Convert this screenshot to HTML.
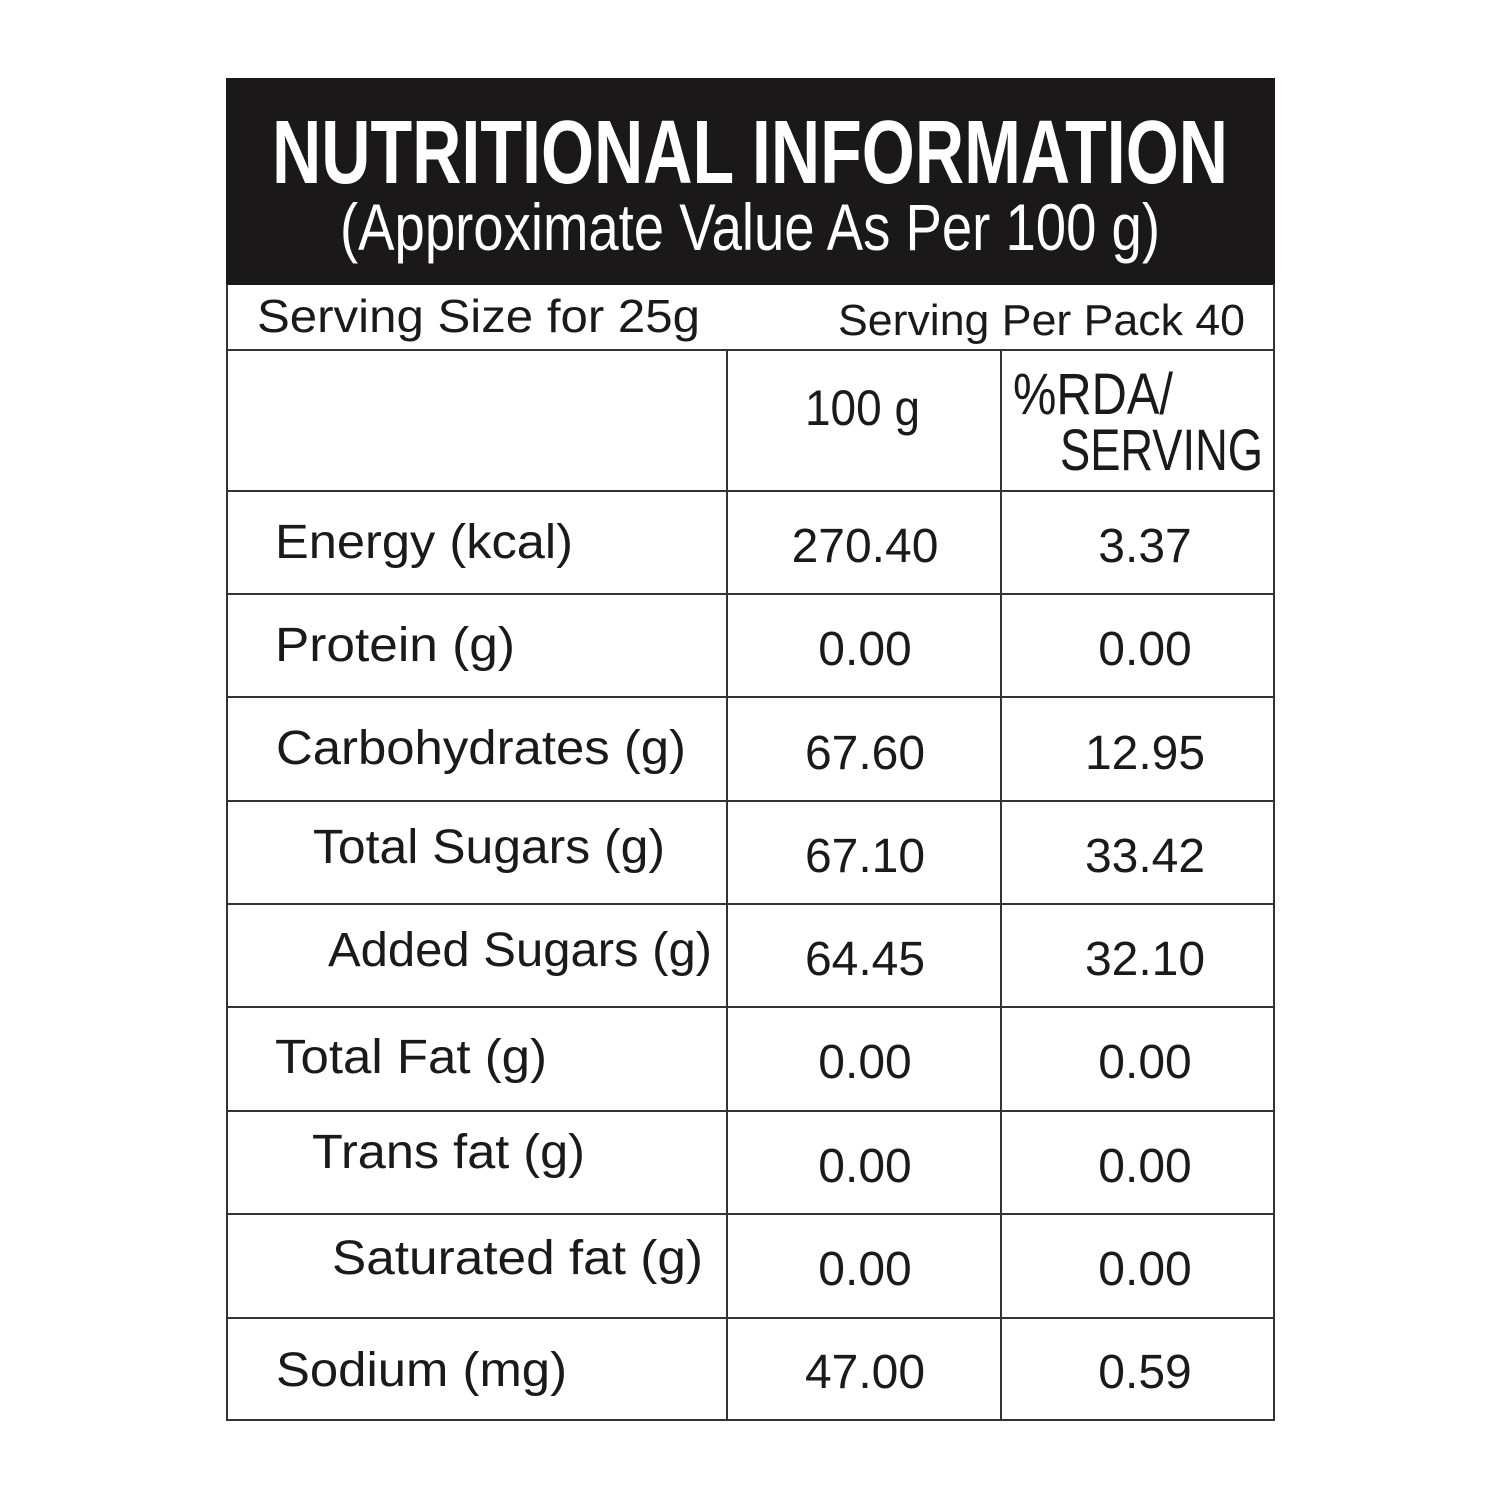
<!DOCTYPE html>
<html><head><style>html,body{margin:0;padding:0;background:#fff;}svg{display:block}</style></head>
<body>
<svg width="1500" height="1500" viewBox="0 0 1500 1500" xmlns="http://www.w3.org/2000/svg" font-family="'Liberation Sans', sans-serif" fill="#1a1a1a">
<rect x="0" y="0" width="1500" height="1500" fill="#fff"/>
<rect x="226" y="78" width="1049" height="207" fill="#1a1818"/>
<g stroke="#333" stroke-width="2" fill="none">
<line x1="227" y1="284" x2="227" y2="1421"/>
<line x1="1274" y1="284" x2="1274" y2="1421"/>
<line x1="226" y1="350" x2="1275" y2="350"/>
<line x1="727" y1="350" x2="727" y2="1421"/>
<line x1="1001" y1="350" x2="1001" y2="1421"/>
<line x1="226" y1="491" x2="1275" y2="491"/>
<line x1="226" y1="594" x2="1275" y2="594"/>
<line x1="226" y1="697" x2="1275" y2="697"/>
<line x1="226" y1="801" x2="1275" y2="801"/>
<line x1="226" y1="904" x2="1275" y2="904"/>
<line x1="226" y1="1007" x2="1275" y2="1007"/>
<line x1="226" y1="1111" x2="1275" y2="1111"/>
<line x1="226" y1="1214" x2="1275" y2="1214"/>
<line x1="226" y1="1318" x2="1275" y2="1318"/>
<line x1="226" y1="1420" x2="1275" y2="1420"/>
</g>
<text x="272" y="183" font-size="90" font-weight="bold" fill="#fff" textLength="956" lengthAdjust="spacingAndGlyphs">NUTRITIONAL INFORMATION</text>
<text x="340" y="250" font-size="66" fill="#fff" textLength="820" lengthAdjust="spacingAndGlyphs">(Approximate Value As Per 100 g)</text>
<text x="257" y="332" font-size="46" textLength="443" lengthAdjust="spacingAndGlyphs">Serving Size for 25g</text>
<text x="838" y="335" font-size="44" textLength="407" lengthAdjust="spacingAndGlyphs">Serving Per Pack 40</text>
<text x="805" y="425" font-size="50" textLength="115" lengthAdjust="spacingAndGlyphs">100 g</text>
<text x="1013" y="414" font-size="58" textLength="160" lengthAdjust="spacingAndGlyphs">%RDA/</text>
<text x="1060" y="470" font-size="58" textLength="203" lengthAdjust="spacingAndGlyphs">SERVING</text>
<g font-size="48">
<text x="275" y="558" textLength="298" lengthAdjust="spacingAndGlyphs">Energy (kcal)</text>
<text x="275" y="661" textLength="240" lengthAdjust="spacingAndGlyphs">Protein (g)</text>
<text x="276" y="764" textLength="410" lengthAdjust="spacingAndGlyphs">Carbohydrates (g)</text>
<text x="313" y="863" textLength="352" lengthAdjust="spacingAndGlyphs">Total Sugars (g)</text>
<text x="328" y="966" textLength="384" lengthAdjust="spacingAndGlyphs">Added Sugars (g)</text>
<text x="275" y="1073" textLength="272" lengthAdjust="spacingAndGlyphs">Total Fat (g)</text>
<text x="312" y="1168" textLength="273" lengthAdjust="spacingAndGlyphs">Trans fat (g)</text>
<text x="332" y="1274" textLength="371" lengthAdjust="spacingAndGlyphs">Saturated fat (g)</text>
<text x="276" y="1386" textLength="291" lengthAdjust="spacingAndGlyphs">Sodium (mg)</text>
</g>
<g font-size="48" text-anchor="middle">
<text x="865" y="562">270.40</text><text x="1145" y="562">3.37</text>
<text x="865" y="665">0.00</text><text x="1145" y="665">0.00</text>
<text x="865" y="769">67.60</text><text x="1145" y="769">12.95</text>
<text x="865" y="872">67.10</text><text x="1145" y="872">33.42</text>
<text x="865" y="975">64.45</text><text x="1145" y="975">32.10</text>
<text x="865" y="1078">0.00</text><text x="1145" y="1078">0.00</text>
<text x="865" y="1182">0.00</text><text x="1145" y="1182">0.00</text>
<text x="865" y="1285">0.00</text><text x="1145" y="1285">0.00</text>
<text x="865" y="1388">47.00</text><text x="1145" y="1388">0.59</text>
</g>
</svg>
</body></html>
